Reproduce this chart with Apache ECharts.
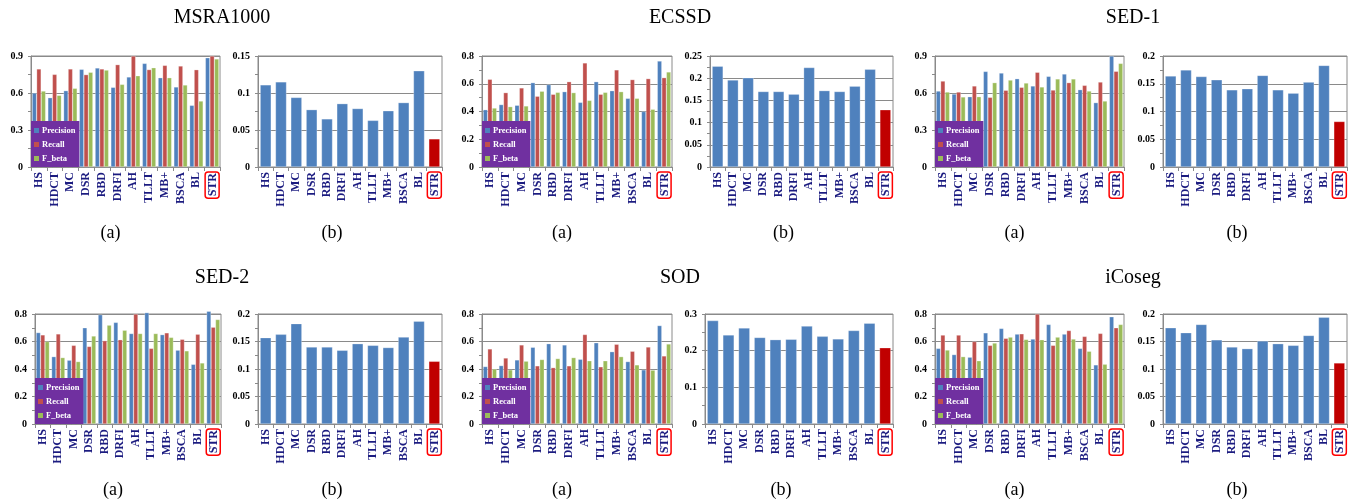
<!DOCTYPE html>
<html>
<head>
<meta charset="utf-8">
<script src="https://cdn.jsdelivr.net/npm/echarts@6/dist/echarts.min.js"></script>
<style>html,body{margin:0;padding:0;background:#fff;}#c{width:1357px;height:500px;}</style>
</head>
<body>
<div id="c"></div>
<script>
const categories = ['HS','HDCT','MC','DSR','RBD','DRFI','AH','TLLT','MB+','BSCA','BL','STR'];
const seriesNames = ['Precision','Recall','F_beta'];

const msraPrecision = [0.600,0.562,0.619,0.792,0.803,0.646,0.730,0.840,0.724,0.649,0.500,0.886];
const msraRecall    = [0.795,0.751,0.795,0.749,0.795,0.830,0.900,0.790,0.824,0.819,0.789,0.900];
const msraFbeta     = [0.616,0.581,0.638,0.768,0.786,0.670,0.740,0.805,0.724,0.665,0.535,0.876];
const msraMAE       = [0.111,0.115,0.094,0.0775,0.065,0.0856,0.079,0.063,0.076,0.087,0.130,0.038];

const ecssdPrecision = [0.413,0.450,0.445,0.608,0.594,0.543,0.466,0.615,0.550,0.495,0.400,0.764];
const ecssdRecall    = [0.632,0.536,0.570,0.510,0.524,0.615,0.750,0.524,0.700,0.630,0.637,0.644];
const ecssdFbeta     = [0.425,0.435,0.440,0.546,0.538,0.536,0.480,0.538,0.543,0.495,0.416,0.685];
const ecssdMAE       = [0.227,0.196,0.201,0.170,0.170,0.164,0.224,0.172,0.170,0.182,0.220,0.129];

const sed1Precision = [0.616,0.592,0.570,0.775,0.762,0.716,0.657,0.735,0.754,0.627,0.522,0.900];
const sed1Recall    = [0.697,0.608,0.657,0.565,0.622,0.646,0.768,0.624,0.684,0.662,0.689,0.776];
const sed1Fbeta     = [0.608,0.568,0.570,0.684,0.705,0.681,0.649,0.714,0.714,0.616,0.535,0.840];
const sed1MAE       = [0.164,0.175,0.163,0.157,0.139,0.141,0.165,0.139,0.133,0.153,0.183,0.082];

const sed2Precision = [0.665,0.490,0.464,0.700,0.795,0.739,0.658,0.810,0.650,0.537,0.434,0.820];
const sed2Recall    = [0.648,0.655,0.572,0.564,0.606,0.613,0.800,0.550,0.663,0.616,0.653,0.704];
const sed2Fbeta     = [0.600,0.483,0.454,0.640,0.719,0.682,0.658,0.658,0.630,0.532,0.444,0.760];
const sed2MAE       = [0.157,0.163,0.1825,0.140,0.140,0.134,0.146,0.143,0.139,0.158,0.187,0.114];

const sodPrecision = [0.418,0.425,0.466,0.558,0.584,0.575,0.471,0.591,0.526,0.454,0.394,0.716];
const sodRecall    = [0.546,0.480,0.575,0.423,0.410,0.423,0.651,0.416,0.580,0.529,0.560,0.495];
const sodFbeta     = [0.400,0.394,0.457,0.469,0.476,0.483,0.460,0.460,0.490,0.430,0.392,0.582];
const sodMAE       = [0.282,0.243,0.262,0.236,0.230,0.231,0.267,0.239,0.232,0.255,0.275,0.208];

const icosegPrecision = [0.550,0.505,0.486,0.663,0.695,0.654,0.618,0.724,0.654,0.550,0.430,0.780];
const icosegRecall    = [0.647,0.647,0.600,0.572,0.623,0.656,0.800,0.572,0.680,0.637,0.659,0.700];
const icosegFbeta     = [0.538,0.490,0.460,0.589,0.632,0.615,0.613,0.632,0.618,0.529,0.435,0.724];
const icosegMAE       = [0.175,0.166,0.181,0.153,0.140,0.137,0.151,0.146,0.143,0.161,0.194,0.111];

const panels = [
  {title:'MSRA1000', cx:222, ty:18, sy:233,
   a:{left:31, top:56, width:189, height:111, max:0.9, interval:0.3, data:[msraPrecision,msraRecall,msraFbeta]},
   b:{left:258, top:56, width:184, height:111, max:0.15, interval:0.05, data:msraMAE}},
  {title:'ECSSD', cx:680, ty:18, sy:233,
   a:{left:482, top:56, width:190, height:111, max:0.8, interval:0.2, data:[ecssdPrecision,ecssdRecall,ecssdFbeta]},
   b:{left:710, top:56, width:183, height:111, max:0.25, interval:0.05, data:ecssdMAE}},
  {title:'SED-1', cx:1133, ty:18, sy:233,
   a:{left:935, top:56, width:189, height:111, max:0.9, interval:0.3, data:[sed1Precision,sed1Recall,sed1Fbeta]},
   b:{left:1163, top:56, width:184, height:111, max:0.2, interval:0.05, data:sed1MAE}},
  {title:'SED-2', cx:222, ty:278, sy:490,
   a:{left:35, top:314, width:186, height:110, max:0.8, interval:0.2, data:[sed2Precision,sed2Recall,sed2Fbeta]},
   b:{left:258, top:314, width:184, height:110, max:0.2, interval:0.05, data:sed2MAE}},
  {title:'SOD', cx:680, ty:278, sy:490,
   a:{left:482, top:314, width:190, height:110, max:0.8, interval:0.2, data:[sodPrecision,sodRecall,sodFbeta]},
   b:{left:705, top:314, width:188, height:110, max:0.3, interval:0.1, data:sodMAE}},
  {title:'iCoseg', cx:1133, ty:278, sy:490,
   a:{left:935, top:314, width:189, height:110, max:0.8, interval:0.2, data:[icosegPrecision,icosegRecall,icosegFbeta]},
   b:{left:1163, top:314, width:184, height:110, max:0.2, interval:0.05, data:icosegMAE}}
];

const SERIF = '"Liberation Serif","Times New Roman",serif';
const NAVY = '#1c1c80';
const GRIDC = '#8a8a8a';
const colors = ['#4F81BD','#C0504D','#9BBB59'];
const STRRED = '#C00000';

const grids = [], xAxes = [], yAxes = [], series = [], legends = [], graphics = [];

function addAxes(g) {
  const idx = grids.length;
  grids.push({left:g.left, top:g.top, width:g.width, height:g.height, show:true, borderColor:GRIDC, borderWidth:1, backgroundColor:'transparent'});
  xAxes.push({
    type:'category', gridIndex:idx, data:categories, boundaryGap:true,
    axisLine:{show:true, lineStyle:{color:GRIDC, width:1}},
    axisTick:{show:true, length:4, lineStyle:{color:GRIDC}},
    axisLabel:{
      rotate:90, interval:0, margin:5, fontFamily:SERIF, fontWeight:'bold', fontSize:12, color:NAVY,
      formatter: v => v === 'STR' ? '{s|STR}' : v,
      rich:{s:{borderColor:'#FF0000', borderWidth:1.5, borderRadius:3, padding:[2,1,0,2], fontFamily:SERIF, fontWeight:'bold', fontSize:12, color:NAVY}}
    }
  });
  yAxes.push({
    type:'value', gridIndex:idx, min:0, max:g.max, interval:g.interval,
    axisLine:{show:true, lineStyle:{color:GRIDC, width:1}},
    axisTick:{show:true, length:3, lineStyle:{color:GRIDC}},
    minorTick:{show:true, splitNumber:2, length:3, lineStyle:{color:GRIDC}},
    splitLine:{show:true, lineStyle:{color:GRIDC, width:1}},
    axisLabel:{fontFamily:SERIF, fontWeight:'bold', fontSize:10, color:'#000', margin:8}
  });
  return idx;
}

panels.forEach(p => {
  const ia = addAxes(p.a);
  p.a.data.forEach((arr, k) => {
    series.push({
      type:'bar', name:seriesNames[k], xAxisIndex:ia, yAxisIndex:ia, data:arr,
      barGap:'0%', barCategoryGap:'14%', clip:false,
      itemStyle:{color:colors[k], borderColor:'rgba(255,255,255,0.55)', borderWidth:0.5},
      emphasis:{disabled:true}
    });
  });
  legends.push({
    left:p.a.left, top:p.a.top + p.a.height - 46, orient:'vertical',
    data:seriesNames, backgroundColor:'#7030A0', padding:[5,4,4,3],
    itemWidth:5, itemHeight:5, itemGap:5, icon:'rect', selectedMode:false,
    itemStyle:{borderWidth:0},
    textStyle:{color:'#fff', fontFamily:SERIF, fontWeight:'bold', fontSize:8.5, padding:[0,0,0,-2]}
  });
  const ib = addAxes(p.b);
  series.push({
    type:'bar', name:'MAE', xAxisIndex:ib, yAxisIndex:ib, data:p.b.data,
    barCategoryGap:'28%', clip:false,
    itemStyle:{color: prm => prm.name === 'STR' ? STRRED : '#4F81BD', borderColor:'rgba(255,255,255,0.55)', borderWidth:0.5},
    emphasis:{disabled:true}
  });
  graphics.push({type:'text', x:p.cx, y:p.ty, style:{text:p.title, align:'center', verticalAlign:'middle', font:'20px ' + SERIF, fill:'#000'}});
  graphics.push({type:'text', x:p.a.left + p.a.width/2 - 15, y:p.sy, style:{text:'(a)', align:'center', verticalAlign:'middle', font:'18px ' + SERIF, fill:'#000'}});
  graphics.push({type:'text', x:p.b.left + p.b.width/2 - 18, y:p.sy, style:{text:'(b)', align:'center', verticalAlign:'middle', font:'18px ' + SERIF, fill:'#000'}});
});

const chart = echarts.init(document.getElementById('c'), null, {renderer:'canvas'});
chart.setOption({
  animation:false,
  grid:grids, xAxis:xAxes, yAxis:yAxes, series:series, legend:legends,
  graphic:{elements:graphics}
});
</script>
</body>
</html>
